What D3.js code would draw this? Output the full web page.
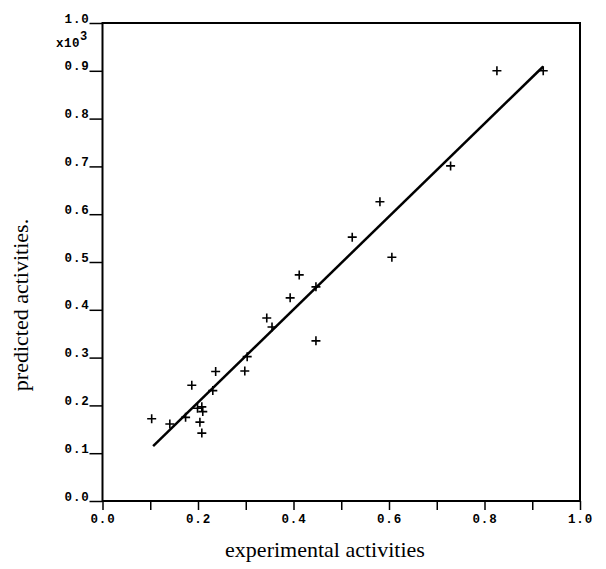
<!DOCTYPE html>
<html>
<head>
<meta charset="utf-8">
<script src="https://cdn.jsdelivr.net/npm/d3@7"></script>
<style>
  body { margin: 0; background: #fff; }
  .tick text { font-family: "Liberation Mono", monospace; font-weight: bold; font-size: 12.5px; letter-spacing: 0.8px; }
</style>
</head>
<body>
<div></div>
<script>
//实验值 / 预测值 (x10^3)
var expX = [0.923, 0.826, 0.729, 0.581, 0.606, 0.523, 0.412, 0.447, 0.393, 0.344, 0.355, 0.447,
    0.303, 0.298, 0.237, 0.187, 0.231, 0.199, 0.208, 0.210, 0.204, 0.208, 0.103, 0.141, 0.174];
var predY = [0.900, 0.900, 0.701, 0.626, 0.510, 0.552, 0.473, 0.448, 0.425, 0.383, 0.364, 0.335,
    0.302, 0.272, 0.271, 0.242, 0.231, 0.194, 0.197, 0.187, 0.165, 0.142, 0.172, 0.161, 0.175];
//回归直线两端
var lineX = [0.106, 0.923];
var lineY = [0.115, 0.909];
//刻度
var xTicks = [0, 0.1, 0.2, 0.3, 0.4, 0.5, 0.6, 0.7, 0.8, 0.9, 1.0];
var xTickLabels = ['0.0', '', '0.2', '', '0.4', '', '0.6', '', '0.8', '', '1.0'];
var yTicks = [0, 0.1, 0.2, 0.3, 0.4, 0.5, 0.6, 0.7, 0.8, 0.9, 1.0];
var yTickLabels = ['0.0', '0.1', '0.2', '0.3', '0.4', '0.5', '0.6', '0.7', '0.8', '0.9', '1.0'];

const Width = 606, Height = 569;
const pLeft = 102.5, pRight = 580, pTop = 23, pBottom = 501;

var svg = d3.select('div').append('svg').attr('width', Width).attr('height', Height);

var xScale = d3.scaleLinear().domain([0, 1]).range([pLeft, pRight]);
var yScale = d3.scaleLinear().domain([0, 1]).range([pBottom, pTop]);

//坐标轴
var xAxis = d3.axisBottom(xScale).tickValues(xTicks).tickSize(9).tickPadding(4)
    .tickFormat((d, i) => xTickLabels[i]);
var yAxis = d3.axisLeft(yScale).tickValues(yTicks).tickSize(13)
    .tickFormat((d, i) => yTickLabels[i]);

var gx = svg.append('g').attr('transform', 'translate(0,' + pBottom + ')').call(xAxis);
var gy = svg.append('g').attr('transform', 'translate(' + pLeft + ',0)').call(yAxis);

gx.select('.domain').remove();
gy.select('.domain').remove();
gx.selectAll('.tick line').attr('stroke', '#000').attr('stroke-width', 1.5);
gy.selectAll('.tick line').attr('stroke', '#000').attr('stroke-width', 1.5);
gx.selectAll('.tick text').attr('fill', '#000');
//y刻度文字在刻度线上方
gy.selectAll('.tick text').attr('fill', '#000').attr('x', -13).attr('dy', '-1px');

//边框
svg.append('rect').attr('x', pLeft).attr('y', pTop)
    .attr('width', pRight - pLeft).attr('height', pBottom - pTop)
    .attr('fill', 'none').attr('stroke', '#000').attr('stroke-width', 2);

//x10^3
var mult = svg.append('text').attr('x', 56).attr('y', 47)
    .style('font-family', '"Liberation Mono", monospace').style('font-weight', 'bold')
    .style('font-size', '12.5px').style('letter-spacing', '0.5px');
mult.append('tspan').text('x10');
mult.append('tspan').attr('dy', -7).style('font-size', '12px').text('3');

//回归线
var line = d3.line().x(d => xScale(d[0])).y(d => yScale(d[1]));
svg.append('path').datum(d3.zip(lineX, lineY)).attr('d', line)
    .attr('fill', 'none').attr('stroke', '#000').attr('stroke-width', 2.5);

//数据点 +
var pts = svg.selectAll('.pt').data(d3.zip(expX, predY)).enter().append('path')
    .attr('class', 'pt')
    .attr('d', d => {
        var x = xScale(d[0]), y = yScale(d[1]), s = 4.5;
        return 'M' + (x - s) + ',' + y + 'H' + (x + s) + 'M' + x + ',' + (y - s) + 'V' + (y + s);
    })
    .attr('stroke', '#000').attr('stroke-width', 1.6);

//轴标题
svg.append('text').attr('x', 325).attr('y', 557).attr('text-anchor', 'middle')
    .style('font-family', '"Liberation Serif", serif').style('font-size', '22px')
    .text('experimental activities');
svg.append('text').attr('transform', 'translate(28,305) rotate(-90)').attr('text-anchor', 'middle')
    .style('font-family', '"Liberation Serif", serif').style('font-size', '22px')
    .text('predicted activities.');
</script>
</body>
</html>
